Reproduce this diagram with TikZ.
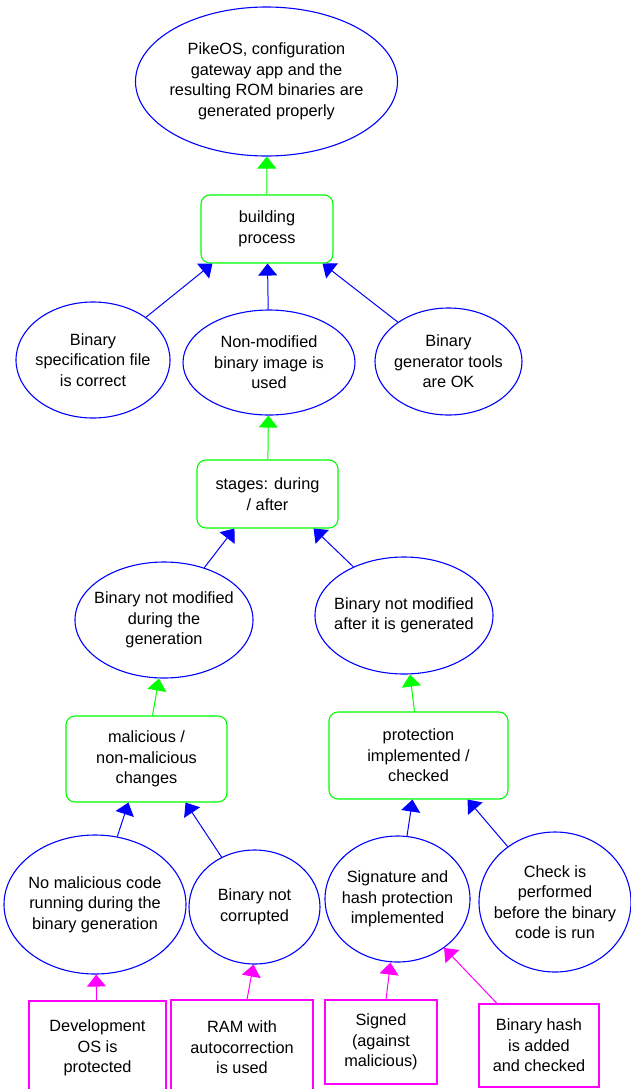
\documentclass[tikz,border=0pt]{standalone}
\usepackage{fontspec}
\setmainfont{Liberation Sans}
\usetikzlibrary{shapes.geometric,arrows.meta}
\definecolor{goalblue}{RGB}{0,0,255}
\definecolor{stratgreen}{RGB}{0,255,0}
\definecolor{solpink}{RGB}{255,0,255}
\tikzset{
  goal/.style={ellipse,draw=goalblue,line width=1.1bp,inner xsep=-40bp,inner ysep=-30bp,align=center},
  strat/.style={rectangle,rounded corners=9bp,draw=stratgreen,line width=1.1bp,inner sep=0pt,align=center},
  sol/.style={rectangle,draw=solpink,line width=1.1bp,inner sep=0pt,align=center},
  link/.style={-{Triangle[width=19bp,length=12bp]},line width=1bp}
}
\begin{document}
\begin{tikzpicture}[x=1bp,y=-1bp,font=\fontsize{16.3bp}{20.5bp}\selectfont]
      \useasboundingbox (0,0) rectangle (631,1089);
      \node[goal,minimum width=262bp,minimum height=149bp] (top) at (266.5,81.5)
        {PikeOS, configuration\\gateway app and the\\resulting ROM binaries are\\generated properly};
      \node[strat,minimum width=132bp,minimum height=68bp] (build) at (267,229) {building\\process};
      \node[goal,minimum width=154bp,minimum height=116bp] (spec) at (93,360) {Binary\\specification file\\is correct};
      \node[goal,minimum width=172bp,minimum height=105bp] (nonmod) at (269,362.5) {Non-modified\\binary image is\\used};
      \node[goal,minimum width=147bp,minimum height=107bp] (gen) at (448.5,361.5) {Binary\\generator tools\\are OK};
      \node[strat,minimum width=141bp,minimum height=68bp] (stages) at (267.5,494) {stages: during\\/ after};
      \node[goal,minimum width=178bp,minimum height=116bp] (during) at (164,620) {Binary not modified\\during the\\generation};
      \node[goal,minimum width=178bp,minimum height=117bp] (after) at (404,615.5) {Binary not modified\\after it is generated};
      \node[strat,minimum width=161bp,minimum height=86bp] (mal) at (146.5,759) {malicious /\\non-malicious\\changes};
      \node[strat,minimum width=179bp,minimum height=87bp] (prot) at (418.5,755.5) {protection\\implemented /\\checked};
      \node[goal,minimum width=182bp,minimum height=139bp] (nomal) at (95,904.5) {No malicious code\\running during the\\binary generation};
      \node[goal,minimum width=131bp,minimum height=114bp] (notcorr) at (254.5,907) {Binary not\\corrupted};
      \node[goal,minimum width=145bp,minimum height=126bp] (sig) at (397.5,899) {Signature and\\hash protection\\implemented};
      \node[goal,minimum width=152bp,minimum height=140bp] (check) at (555,902) {Check is\\performed\\before the binary\\code is run};
      \node[sol,minimum width=137bp,minimum height=94bp] (dev) at (97.5,1048) {Development\\OS is\\protected};
      \node[sol,minimum width=142bp,minimum height=95bp] (ram) at (242,1047.5) {RAM with\\autocorrection\\is used};
      \node[sol,minimum width=112bp,minimum height=84bp] (signed) at (381,1042) {Signed\\(against\\malicious)};
      \node[sol,minimum width=120bp,minimum height=83bp] (hash) at (539,1045.5) {Binary hash\\is added\\and checked};
      \begin{scope}[link,stratgreen]
        \draw (build) -- (top);
        \draw (stages) -- (nonmod);
        \draw ([xshift=6bp]mal.north) -- ([xshift=-5bp]during.south);
        \draw ([xshift=-4bp]prot.north) -- ([xshift=6bp]after.south);
      \end{scope}
      \begin{scope}[link,goalblue]
        \draw (spec) -- ([xshift=12bp]build.south west);
        \draw (nonmod) -- (build);
        \draw (gen) -- ([xshift=-11bp]build.south east);
        \draw (during) -- ([xshift=38bp]stages.south west);
        \draw (after) -- ([xshift=-25bp]stages.south east);
        \draw (nomal) -- ([xshift=63bp]mal.south west);
        \draw (notcorr) -- ([xshift=-42bp]mal.south east);
        \draw (sig) -- ([xshift=-6bp]prot.south);
        \draw (check) -- ([xshift=-41bp]prot.south east);
      \end{scope}
      \begin{scope}[link,solpink]
        \draw (dev) -- (nomal);
        \draw ([xshift=5bp]ram.north) -- ([xshift=-1bp]notcorr.south);
        \draw ([xshift=5bp]signed.north) -- ([xshift=-7bp]sig.south);
        \draw ([xshift=-42bp]hash.north) -- (sig);
      \end{scope}
    \end{tikzpicture}
\end{document}
